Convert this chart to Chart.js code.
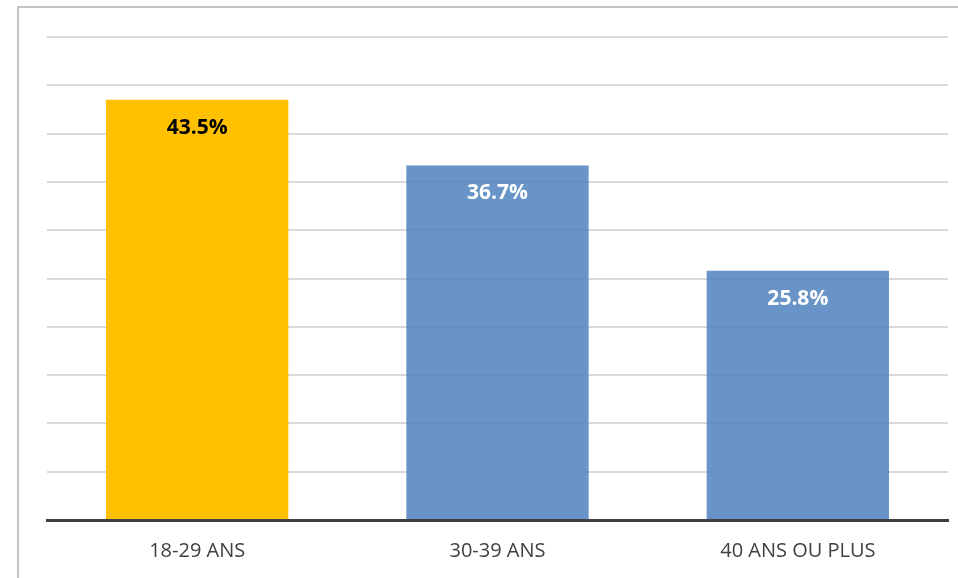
<!DOCTYPE html>
<html>
<head>
<meta charset="utf-8">
<script src="https://cdn.jsdelivr.net/npm/chart.js@4"></script>
<style>
  html, body { margin: 0; padding: 0; background: #fff; }
  .chart-container { position: relative; width: 958px; height: 578px; }
</style>
</head>
<body>
<div class="chart-container">
  <canvas id="barChart"></canvas>
</div>
<script>
// Values
const categories = ['18-29 ANS', '30-39 ANS', '40 ANS OU PLUS'];
const shares = [43.5, 36.7, 25.8];
const barColors = ['#FFC000', 'rgba(79, 129, 189, 0.85)', 'rgba(79, 129, 189, 0.85)'];
const labelColors = ['#000000', '#ffffff', '#ffffff'];

// Frame lines (left and top) like the original chart box
const framePlugin = {
    id: 'frame',
    beforeDraw(chart) {
        const ctx = chart.ctx;
        ctx.save();
        ctx.strokeStyle = '#c4c4c4';
        ctx.lineWidth = 2;
        ctx.beginPath();
        ctx.moveTo(18, chart.height);
        ctx.lineTo(18, 7);
        ctx.lineTo(chart.width, 7);
        ctx.stroke();
        ctx.restore();
    }
};

// Value labels inside the top of each bar
const valueLabels = {
    id: 'valueLabels',
    afterDatasetsDraw(chart) {
        const ctx = chart.ctx;
        const meta = chart.getDatasetMeta(0);
        ctx.save();
        ctx.font = 'bold 21px "Open Sans", "Liberation Sans", sans-serif';
        ctx.textAlign = 'center';
        ctx.textBaseline = 'middle';
        meta.data.forEach((bar, i) => {
            ctx.fillStyle = labelColors[i];
            ctx.fillText(shares[i].toFixed(1) + '%', bar.x, bar.y + 28);
        });
        ctx.restore();
    }
};

const ctx = document.getElementById('barChart').getContext('2d');
new Chart(ctx, {
    type: 'bar',
    data: {
        labels: categories,
        datasets: [{
            data: shares,
            backgroundColor: barColors,
            borderWidth: 0,
            barPercentage: 0.607,
            categoryPercentage: 1
        }]
    },
    options: {
        responsive: true,
        maintainAspectRatio: false,
        animation: false,
        layout: { padding: { left: 47, right: 10, top: 37, bottom: 10 } },
        plugins: {
            legend: { display: false },
            tooltip: { enabled: false }
        },
        scales: {
            x: {
                grid: { display: false },
                border: { display: true, color: '#404040', width: 3, z: 2 },
                ticks: {
                    color: '#404040',
                    padding: 11,
                    maxRotation: 0,
                    font: { family: '"Open Sans", "Liberation Sans", sans-serif', size: 20 }
                },
                afterFit(scale) { scale.height = 48; }
            },
            y: {
                min: 0,
                max: 50,
                grid: { color: '#d9d9d9', lineWidth: 2, drawTicks: false },
                border: { display: false },
                ticks: { display: false, stepSize: 5 }
            }
        }
    },
    plugins: [framePlugin, valueLabels]
});
</script>
</body>
</html>
